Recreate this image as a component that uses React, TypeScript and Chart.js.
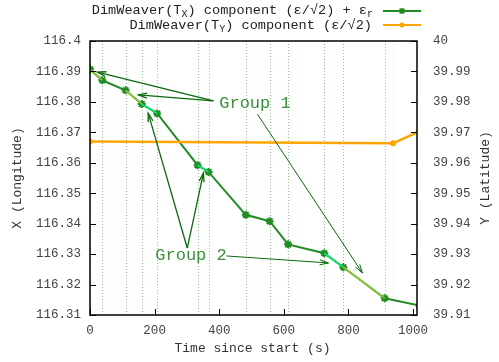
import React, { useEffect, useRef } from "react";
import { Chart, registerables } from "chart.js";

Chart.register(...registerables);

// ---- data ----
const timesX = [0, 38, 110, 160, 208, 333, 367, 482, 556, 613, 725, 784, 912, 1020];
const lonX = [116.3907, 116.3871, 116.3838, 116.3793, 116.3762, 116.3592, 116.357, 116.3429, 116.3408, 116.3332, 116.3303, 116.3257, 116.3155, 116.3131];
const highlightColors = ["#9acd32", null, "#9acd32", "#00ee76", null, "#00ee76", null, null, null, null, "#00ee76", "#9acd32", null];

const timesY = [0, 938, 1020];
const latY = [39.967, 39.9664, 39.9704];

const xTicks = [0, 200, 400, 600, 800, 1000];
const yTicks = [116.31, 116.32, 116.33, 116.34, 116.35, 116.36, 116.37, 116.38, 116.39, 116.4];
const y2Ticks = [39.91, 39.92, 39.93, 39.94, 39.95, 39.96, 39.97, 39.98, 39.99, 40];

const xRange = [0, 1012];
const yRange = [116.31, 116.4];
const y2Range = [39.91, 40];

// annotations (data coordinates: time, longitude)
const groupLabels = [
  { text: "Group 1", t: 400, v: 116.3796 },
  { text: "Group 2", t: 202, v: 116.3294 },
];
const arrows = [
  { from: [382, 116.3803], to: [23, 116.3898], w: 1.3 },
  { from: [382, 116.3803], to: [150, 116.3823], w: 1.3 },
  { from: [518, 116.376], to: [843, 116.3238], w: 1 },
  { from: [301, 116.332], to: [180, 116.3763], w: 1.3 },
  { from: [301, 116.332], to: [351, 116.3566], w: 1.3 },
  { from: [422, 116.3294], to: [738, 116.3271], w: 1 },
];

const GREEN = "#228b22";
const ORANGE = "#ffa500";
const MONO = "'Liberation Mono', 'DejaVu Sans Mono', monospace";

function fmt(v: number) {
  return parseFloat(v.toFixed(2)).toString();
}

function drawArrow(ctx: CanvasRenderingContext2D, x1: number, y1: number, x2: number, y2: number, w: number) {
  ctx.save();
  ctx.strokeStyle = "#0a6a0a";
  ctx.lineWidth = w;
  ctx.beginPath();
  ctx.moveTo(x1, y1);
  ctx.lineTo(x2, y2);
  ctx.stroke();
  const ang = Math.atan2(y2 - y1, x2 - x1);
  const L = 9;
  const a = (16 * Math.PI) / 180;
  ctx.beginPath();
  ctx.moveTo(x2 - L * Math.cos(ang - a), y2 - L * Math.sin(ang - a));
  ctx.lineTo(x2, y2);
  ctx.lineTo(x2 - L * Math.cos(ang + a), y2 - L * Math.sin(ang + a));
  ctx.stroke();
  ctx.restore();
}

// draw text segments with subscripts, right-aligned at xr
function drawRich(ctx: CanvasRenderingContext2D, parts: { s: string; sub?: boolean }[], xr: number, y: number) {
  const big = `13.6px ${MONO}`;
  const small = `10px ${MONO}`;
  let total = 0;
  for (const p of parts) {
    ctx.font = p.sub ? small : big;
    total += ctx.measureText(p.s).width;
  }
  let x = xr - total;
  ctx.textAlign = "left";
  ctx.textBaseline = "middle";
  for (const p of parts) {
    ctx.font = p.sub ? small : big;
    ctx.fillText(p.s, x, p.sub ? y + 4 : y);
    x += ctx.measureText(p.s).width;
  }
}

const overlayPlugin = {
  id: "overlay",
  beforeDatasetsDraw(chart: any) {
    const { ctx, chartArea: a, scales } = chart;
    const xs = scales.x;
    ctx.save();
    ctx.beginPath();
    ctx.rect(a.left, a.top, a.right - a.left, a.bottom - a.top);
    ctx.clip();
    ctx.lineWidth = 1;
    ctx.setLineDash([1, 2]);
    ctx.strokeStyle = "rgba(34,139,34,0.5)";
    for (const t of timesX) {
      const px = Math.round(xs.getPixelForValue(t)) + 0.5;
      ctx.beginPath();
      ctx.moveTo(px, a.top);
      ctx.lineTo(px, a.bottom);
      ctx.stroke();
    }
    ctx.strokeStyle = "rgba(255,165,0,0.3)";
    for (const t of timesY) {
      const px = Math.round(xs.getPixelForValue(t)) + 0.5;
      ctx.beginPath();
      ctx.moveTo(px, a.top);
      ctx.lineTo(px, a.bottom);
      ctx.stroke();
    }
    ctx.restore();
  },
  afterDatasetsDraw(chart: any) {
    const { ctx, chartArea: a, scales } = chart;
    const xs = scales.x;
    const ys = scales.y;
    const y2s = scales.y2;

    // arrows & labels
    for (const ar of arrows) {
      drawArrow(
        ctx,
        xs.getPixelForValue(ar.from[0]),
        ys.getPixelForValue(ar.from[1]),
        xs.getPixelForValue(ar.to[0]),
        ys.getPixelForValue(ar.to[1]),
        ar.w
      );
    }
    ctx.save();
    ctx.fillStyle = "#3a8f3a";
    ctx.font = `17px ${MONO}`;
    ctx.textAlign = "left";
    ctx.textBaseline = "middle";
    for (const g of groupLabels) {
      ctx.fillText(g.text, xs.getPixelForValue(g.t), ys.getPixelForValue(g.v));
    }
    ctx.restore();

    // border
    ctx.save();
    ctx.strokeStyle = "#000";
    ctx.lineWidth = 1.5;
    ctx.strokeRect(a.left, a.top, a.right - a.left, a.bottom - a.top);
    ctx.lineWidth = 1;
    const tl = 6;
    for (const v of yTicks) {
      const py = Math.round(ys.getPixelForValue(v)) + 0.5;
      ctx.beginPath();
      ctx.moveTo(a.left, py);
      ctx.lineTo(a.left + tl, py);
      ctx.stroke();
    }
    for (const v of y2Ticks) {
      const py = Math.round(y2s.getPixelForValue(v)) + 0.5;
      ctx.beginPath();
      ctx.moveTo(a.right, py);
      ctx.lineTo(a.right - tl, py);
      ctx.stroke();
    }
    for (const v of xTicks) {
      const px = Math.round(xs.getPixelForValue(v)) + 0.5;
      ctx.beginPath();
      ctx.moveTo(px, a.bottom);
      ctx.lineTo(px, a.bottom - tl);
      ctx.stroke();
    }
    ctx.restore();

    // axis titles
    ctx.save();
    ctx.fillStyle = "#333";
    ctx.font = `13px ${MONO}`;
    ctx.textAlign = "center";
    ctx.textBaseline = "middle";
    ctx.fillText("Time since start (s)", (a.left + a.right) / 2 - 1, 349);
    ctx.save();
    ctx.translate(18, (a.top + a.bottom) / 2);
    ctx.rotate(-Math.PI / 2);
    ctx.fillText("X (Longitude)", 0, 0);
    ctx.restore();
    ctx.save();
    ctx.translate(486, (a.top + a.bottom) / 2);
    ctx.rotate(-Math.PI / 2);
    ctx.fillText("Y (Latitude)", 0, 0);
    ctx.restore();
    ctx.restore();

    // legend
    ctx.save();
    ctx.fillStyle = "#222";
    drawRich(
      ctx,
      [
        { s: "DimWeaver(T" },
        { s: "X", sub: true },
        { s: ") component (ε/√2) + ε" },
        { s: "r", sub: true },
      ],
      373,
      10
    );
    drawRich(
      ctx,
      [{ s: "DimWeaver(T" }, { s: "Y", sub: true }, { s: ") component (ε/√2)" }],
      372,
      25
    );
    const lx1 = 383;
    const lx2 = 421;
    ctx.lineWidth = 2;
    ctx.strokeStyle = GREEN;
    ctx.beginPath();
    ctx.moveTo(lx1, 11);
    ctx.lineTo(lx2, 11);
    ctx.stroke();
    // star marker
    const cx = (lx1 + lx2) / 2;
    const r = 3;
    ctx.lineWidth = 1.5;
    ctx.beginPath();
    ctx.moveTo(cx, 11 - r);
    ctx.lineTo(cx, 11 + r);
    ctx.moveTo(cx - r * 0.8, 11 - r * 0.8);
    ctx.lineTo(cx + r * 0.8, 11 + r * 0.8);
    ctx.moveTo(cx - r * 0.8, 11 + r * 0.8);
    ctx.lineTo(cx + r * 0.8, 11 - r * 0.8);
    ctx.stroke();
    ctx.lineWidth = 2;
    ctx.strokeStyle = ORANGE;
    ctx.beginPath();
    ctx.moveTo(lx1, 25);
    ctx.lineTo(lx2, 25);
    ctx.stroke();
    ctx.fillStyle = ORANGE;
    ctx.beginPath();
    ctx.arc(cx, 25, 2.5, 0, Math.PI * 2);
    ctx.fill();
    ctx.restore();
  },
};

export default function App() {
  const ref = useRef<HTMLCanvasElement | null>(null);
  useEffect(() => {
    if (!ref.current) return;
    const chart = new Chart(ref.current, {
      type: "line",
      data: {
        datasets: [
          {
            label: "DimWeaver(TX) component",
            data: timesX.map((t, i) => ({ x: t, y: lonX[i] })),
            yAxisID: "y",
            borderColor: GREEN,
            backgroundColor: GREEN,
            borderWidth: 2,
            pointStyle: "star",
            pointRadius: 4,
            pointBorderWidth: 2,
            pointBorderColor: GREEN,
            tension: 0,
            order: 3,
          },
          {
            label: "highlight",
            data: timesX.map((t, i) => ({ x: t, y: lonX[i] })),
            yAxisID: "y",
            borderColor: "transparent",
            borderWidth: 1.5,
            pointRadius: 0,
            segment: {
              borderColor: (c: any) => highlightColors[c.p0DataIndex] || "rgba(0,0,0,0)",
            },
            order: 2,
          },
          {
            label: "DimWeaver(TY) component",
            data: timesY.map((t, i) => ({ x: t, y: latY[i] })),
            yAxisID: "y2",
            borderColor: ORANGE,
            backgroundColor: ORANGE,
            borderWidth: 2.5,
            pointStyle: "circle",
            pointRadius: 3,
            pointBorderWidth: 0,
            tension: 0,
            order: 1,
          },
        ],
      },
      options: {
        animation: false,
        responsive: false,
        devicePixelRatio: 1,
        layout: { padding: { top: 41, left: 0, right: 0, bottom: 0 } },
        plugins: { legend: { display: false }, tooltip: { enabled: false } },
        scales: {
          x: {
            type: "linear",
            min: xRange[0],
            max: xRange[1],
            grid: { display: false, drawTicks: false },
            border: { display: false },
            afterFit: (s: any) => {
              s.height = 47;
            },
            afterBuildTicks: (s: any) => {
              s.ticks = xTicks.map((v) => ({ value: v }));
            },
            ticks: {
              padding: 8,
              color: "#444",
              font: { family: MONO, size: 12.5 },
              maxRotation: 0,
              callback: (v: any) => fmt(Number(v)),
            },
          },
          y: {
            type: "linear",
            position: "left",
            min: yRange[0],
            max: yRange[1],
            grid: { display: false, drawTicks: false },
            border: { display: false },
            afterFit: (s: any) => {
              s.width = 90;
            },
            afterBuildTicks: (s: any) => {
              s.ticks = yTicks.map((v) => ({ value: v }));
            },
            ticks: {
              padding: 9,
              color: "#444",
              font: { family: MONO, size: 12.5 },
              callback: (v: any) => fmt(Number(v)),
            },
          },
          y2: {
            type: "linear",
            position: "right",
            min: y2Range[0],
            max: y2Range[1],
            grid: { display: false, drawTicks: false },
            border: { display: false },
            afterFit: (s: any) => {
              s.width = 82;
            },
            afterBuildTicks: (s: any) => {
              s.ticks = y2Ticks.map((v) => ({ value: v }));
            },
            ticks: {
              padding: 16,
              color: "#444",
              font: { family: MONO, size: 12.5 },
              callback: (v: any) => fmt(Number(v)),
            },
          },
        },
      },
      plugins: [overlayPlugin],
    } as any);
    return () => chart.destroy();
  }, []);
  return (
    <div style={{ position: "fixed", left: 0, top: 0, width: 499, height: 362, background: "#fff" }}>
      <canvas ref={ref} width={499} height={362} style={{ display: "block" }} />
    </div>
  );
}
